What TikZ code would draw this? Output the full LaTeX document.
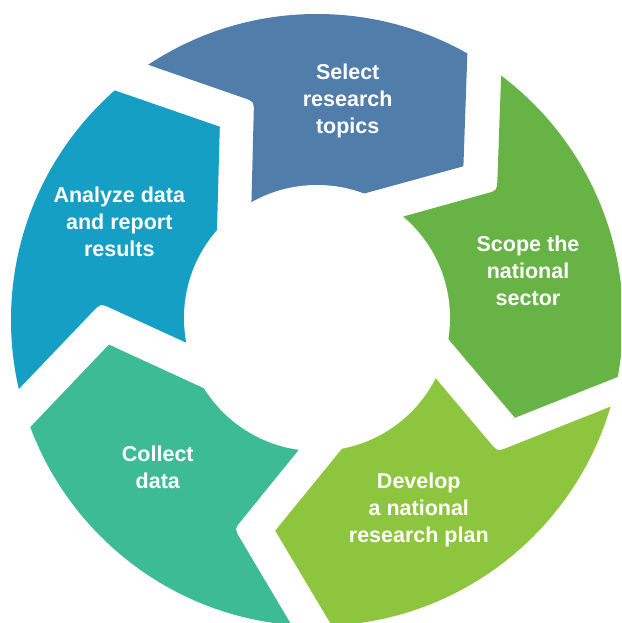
\documentclass[tikz,border=0pt]{standalone}
\usepackage{fontspec}
\setmainfont{Liberation Sans}
\usetikzlibrary{calc}
\definecolor{cBlue}{HTML}{507DAA}
\definecolor{cGreen}{HTML}{67B346}
\definecolor{cLime}{HTML}{8DC53F}
\definecolor{cSea}{HTML}{3DBB94}
\definecolor{cCyan}{HTML}{159FC4}
% one ring segment: notch (rounded) at its counter-clockwise end, point at its clockwise end
\newcommand\drawseg[2]{%
  \coordinate (#1-m) at ($(#1-os)!0.5!(#1-oe)$);
  \fill[#2] ($(#1-n)!1.25!(#1-os)$) -- ($(#1-n)!11pt!(#1-os)$)
    .. controls (#1-n) .. ($(#1-n)!11pt!(#1-is)$) -- ($(#1-n)!1.4!(#1-is)$)
    -- (I) -- ($(#1-t)!1.4!(#1-ie)$) -- (#1-t) -- ($(#1-t)!1.25!(#1-oe)$)
    -- ($(O)!2!(#1-oe)$) -- ($(O)!2.2!(#1-m)$) -- ($(O)!2!(#1-os)$) -- cycle;}
\begin{document}
\begin{tikzpicture}[x=1pt,y=-1pt,
  lbl/.style={text=white,font=\bfseries\fontsize{21.5}{27}\selectfont,align=center,inner sep=0pt}]
\useasboundingbox (0,0) rectangle (621,623);
\clip (0,0) rectangle (621,623);
\coordinate (O) at (317,320);
\coordinate (I) at (317,318);
% Select (blue)
\coordinate (b-os) at (149.7,65.3);
\coordinate (b-n)  at (254,101.5);
\coordinate (b-is) at (251.5,200);
\coordinate (b-oe) at (467.3,55.4);
\coordinate (b-t)  at (463.4,166.3);
\coordinate (b-ie) at (365,193.3);
% Scope (green)
\coordinate (g-os) at (501,79.2);
\coordinate (g-n)  at (497,190.5);
\coordinate (g-is) at (405.9,215.8);
\coordinate (g-oe) at (620,376);
\coordinate (g-t)  at (514.9,417.8);
\coordinate (g-ie) at (451.7,343);
% Develop (lime)
\coordinate (d-os) at (607,408);
\coordinate (d-n)  at (497.5,451.5);
\coordinate (d-is) at (435.6,378.2);
\coordinate (d-oe) at (332,626);
\coordinate (d-t)  at (275.2,530.7);
\coordinate (d-ie) at (344.6,445.5);
% Collect (sea green)
\coordinate (c-os) at (291.5,625);
\coordinate (c-n)  at (234.5,529);
\coordinate (c-is) at (299,449.5);
\coordinate (c-oe) at (29.7,427.7);
\coordinate (c-t)  at (108.9,344.6);
\coordinate (c-ie) at (207.9,390.1);
% Analyze (cyan)
\coordinate (a-os) at (17.8,390.1);
\coordinate (a-n)  at (100.5,303.5);
\coordinate (a-is) at (186.1,342.6);
\coordinate (a-oe) at (116.8,91.1);
\coordinate (a-t)  at (219.8,126.7);
\coordinate (a-ie) at (217,229.7);
\begin{scope}
  \clip (O) circle[radius=306pt];
  \drawseg{b}{cBlue}
  \drawseg{g}{cGreen}
  \drawseg{d}{cLime}
  \drawseg{c}{cSea}
  \drawseg{a}{cCyan}
\end{scope}
\fill[white] (I) circle[radius=133pt];
\node[lbl] (t1) at (347.7,100.9) {Select\\research\\topics};
\node[lbl] (t2) at (528,271) {Scope the\\national\\sector};
\node[lbl] (t3) at (418.8,509.6) {Develop\\a national\\research plan};
\node[lbl] (t4) at (157.8,467.4) {Collect\\data};
\node[lbl] (t5) at (119.3,222.3) {Analyze data\\and report\\results};
\end{tikzpicture}
\end{document}
